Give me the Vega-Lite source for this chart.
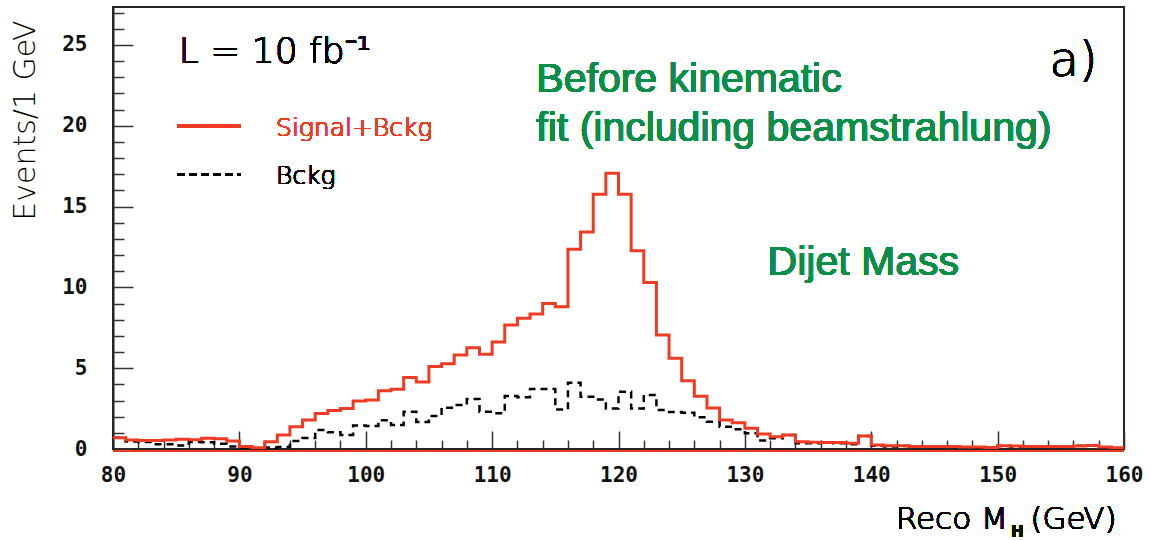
{
  "$schema": "https://vega.github.io/schema/vega-lite/v6.json",
  "width": 1011,
  "height": 442,
  "autosize": {"type": "none"},
  "padding": {"left": 113, "top": 7, "right": 27, "bottom": 91},
  "background": "white",
  "config": {
    "view": {"stroke": "#2b2323", "strokeWidth": 2},
    "axis": {"grid": false, "labelOverlap": false, "labelFlush": false, "labelBound": false}
  },
  "data": {"values": [
    {"m":80,"s":0.70,"b":0.70},{"m":81,"s":0.55,"b":0.46},{"m":82,"s":0.52,"b":0.44},{"m":83,"s":0.52,"b":0.30},
    {"m":84,"s":0.55,"b":0.30},{"m":85,"s":0.60,"b":0.22},{"m":86,"s":0.58,"b":0.43},{"m":87,"s":0.66,"b":0.42},
    {"m":88,"s":0.64,"b":0.32},{"m":89,"s":0.50,"b":0.15},{"m":90,"s":0.15,"b":0.08},{"m":91,"s":0.08,"b":0.05},
    {"m":92,"s":0.45,"b":0.10},{"m":93,"s":0.87,"b":0.12},{"m":94,"s":1.38,"b":0.50},{"m":95,"s":1.80,"b":0.68},
    {"m":96,"s":2.20,"b":1.18},{"m":97,"s":2.38,"b":1.03},{"m":98,"s":2.50,"b":0.87},{"m":99,"s":2.97,"b":1.45},
    {"m":100,"s":3.03,"b":1.42},{"m":101,"s":3.60,"b":1.78},{"m":102,"s":3.70,"b":1.49},{"m":103,"s":4.43,"b":2.31},
    {"m":104,"s":4.15,"b":1.67},{"m":105,"s":5.10,"b":2.04},{"m":106,"s":5.28,"b":2.56},{"m":107,"s":5.82,"b":2.72},
    {"m":108,"s":6.27,"b":3.09},{"m":109,"s":5.86,"b":2.31},{"m":110,"s":6.62,"b":2.21},{"m":111,"s":7.67,"b":3.28},
    {"m":112,"s":8.09,"b":3.20},{"m":113,"s":8.36,"b":3.71},{"m":114,"s":9.00,"b":3.71},{"m":115,"s":8.80,"b":2.45},
    {"m":116,"s":12.36,"b":4.10},{"m":117,"s":13.42,"b":3.24},{"m":118,"s":15.76,"b":3.07},{"m":119,"s":17.06,"b":2.51},
    {"m":120,"s":15.76,"b":3.55},{"m":121,"s":12.27,"b":2.51},{"m":122,"s":10.31,"b":3.34},{"m":123,"s":7.05,"b":2.41},
    {"m":124,"s":5.61,"b":2.29},{"m":125,"s":4.22,"b":2.25},{"m":126,"s":3.26,"b":1.97},{"m":127,"s":2.54,"b":1.69},
    {"m":128,"s":1.80,"b":1.38},{"m":129,"s":1.63,"b":1.22},{"m":130,"s":1.28,"b":0.97},{"m":131,"s":0.93,"b":0.52},
    {"m":132,"s":0.76,"b":0.66},{"m":133,"s":0.87,"b":0.87},{"m":134,"s":0.45,"b":0.35},{"m":135,"s":0.42,"b":0.35},
    {"m":136,"s":0.40,"b":0.40},{"m":137,"s":0.40,"b":0.35},{"m":138,"s":0.35,"b":0.29},{"m":139,"s":0.80,"b":0.80},
    {"m":140,"s":0.25,"b":0.20},{"m":141,"s":0.20,"b":0.15},{"m":142,"s":0.20,"b":0.18},{"m":143,"s":0.15,"b":0.12},
    {"m":144,"s":0.15,"b":0.12},{"m":145,"s":0.15,"b":0.12},{"m":146,"s":0.15,"b":0.15},{"m":147,"s":0.12,"b":0.10},
    {"m":148,"s":0.12,"b":0.10},{"m":149,"s":0.10,"b":0.08},{"m":150,"s":0.20,"b":0.18},{"m":151,"s":0.18,"b":0.15},
    {"m":152,"s":0.15,"b":0.12},{"m":153,"s":0.15,"b":0.12},{"m":154,"s":0.15,"b":0.12},{"m":155,"s":0.15,"b":0.15},
    {"m":156,"s":0.18,"b":0.20},{"m":157,"s":0.22,"b":0.20},{"m":158,"s":0.12,"b":0.10},{"m":159,"s":0.08,"b":0.05},
    {"m":160,"s":0.08,"b":0.05}
  ]},
  "resolve": {"axis": {"x": "independent", "y": "independent"}},
  "layer": [
    {
      "mark": {"type": "rule", "color": "#ee3b24", "strokeWidth": 1.2, "yOffset": 2},
      "encoding": {"x": {"datum": 80, "axis": null}, "x2": {"datum": 160}, "y": {"datum": 0, "axis": null}}
    },
    {
      "mark": {"type": "line", "interpolate": "step-after", "color": "black", "strokeWidth": 2.5, "strokeDash": [7, 5]},
      "encoding": {
        "x": {"field": "m", "type": "quantitative",
          "scale": {"domain": [80, 160], "nice": false, "zero": false},
          "axis": {
            "orient": "bottom",
            "title": null,
            "values": [80, 90, 100, 110, 120, 130, 140, 150, 160],
            "tickSize": -18,
            "tickColor": "#333", "tickWidth": 1.5,
            "domainColor": "#2b2323", "domainWidth": 2,
            "labelFont": "DejaVu Sans Mono", "labelFontWeight": "bold", "labelFontSize": 21,
            "labelColor": "#111", "labelPadding": 33
          }
        },
        "y": {"field": "b", "type": "quantitative",
          "scale": {"domain": [0, 27.35], "nice": false},
          "axis": {
            "orient": "left",
            "title": "Events/1 GeV",
            "values": [0, 5, 10, 15, 20, 25],
            "tickSize": -20,
            "tickColor": "#333", "tickWidth": 1.5,
            "domainColor": "#2b2323", "domainWidth": 2,
            "labelFont": "DejaVu Sans Mono", "labelFontWeight": "bold", "labelFontSize": 21,
            "labelColor": "#111", "labelPadding": 46,
            "titleFont": "DejaVu Sans", "titleFontWeight": 200, "titleFontSize": 30, "titleColor": "#000",
            "titleAnchor": "end", "titleX": -88, "titleY": 13, "titleAngle": -90, "titleAlign": "right", "titleBaseline": "middle"
          }
        }
      }
    },
    {
      "mark": {"type": "line", "interpolate": "step-after", "color": "#ee3b24", "strokeWidth": 3},
      "encoding": {
        "x": {"field": "m", "type": "quantitative",
          "axis": {
            "orient": "bottom", "title": null,
            "values": [82,84,86,88,92,94,96,98,102,104,106,108,112,114,116,118,122,124,126,128,132,134,136,138,142,144,146,148,152,154,156,158],
            "tickSize": -9, "tickColor": "#333", "tickWidth": 1.5,
            "labels": false, "domain": false
          }
        },
        "y": {"field": "s", "type": "quantitative",
          "axis": {
            "orient": "left", "title": null,
            "values": [1,2,3,4,6,7,8,9,11,12,13,14,16,17,18,19,21,22,23,24,26,27],
            "tickSize": -11, "tickColor": "#333", "tickWidth": 1.5,
            "labels": false, "domain": false
          }
        }
      }
    },
    {
      "mark": {"type": "rule", "color": "#ee3b24", "strokeWidth": 3},
      "encoding": {"x": {"datum": 85.1, "axis": null}, "x2": {"datum": 90.1}, "y": {"datum": 20.0, "axis": null}}
    },
    {
      "mark": {"type": "rule", "color": "black", "strokeWidth": 2.5, "strokeDash": [7, 5]},
      "encoding": {"x": {"datum": 85.1, "axis": null}, "x2": {"datum": 90.1}, "y": {"datum": 17.0, "axis": null}}
    },
    {
      "mark": {"type": "text", "align": "left", "baseline": "alphabetic", "font": "DejaVu Sans", "fontWeight": 200, "fontSize": 25, "color": "#ee3b24"},
      "encoding": {"x": {"datum": 92.9, "axis": null}, "y": {"datum": 19.37, "axis": null}, "text": {"value": "Signal+Bckg"}}
    },
    {
      "mark": {"type": "text", "align": "left", "baseline": "alphabetic", "font": "DejaVu Sans", "fontWeight": 200, "fontSize": 25, "color": "black"},
      "encoding": {"x": {"datum": 92.9, "axis": null}, "y": {"datum": 16.4, "axis": null}, "text": {"value": "Bckg"}}
    },
    {
      "mark": {"type": "text", "align": "left", "baseline": "alphabetic", "font": "DejaVu Sans", "fontWeight": 200, "fontSize": 36, "color": "black"},
      "encoding": {"x": {"datum": 85.2, "axis": null}, "y": {"datum": 23.89, "axis": null}, "text": {"value": "L = 10 fb⁻¹"}}
    },
    {
      "mark": {"type": "text", "align": "left", "baseline": "alphabetic", "font": "DejaVu Sans", "fontWeight": 200, "fontSize": 48, "color": "black"},
      "encoding": {"x": {"datum": 154.1, "axis": null}, "y": {"datum": 23.1, "axis": null}, "text": {"value": "a)"}}
    },
    {
      "mark": {"type": "text", "align": "left", "baseline": "alphabetic", "font": "Liberation Sans", "fontSize": 41, "lineHeight": 49, "color": "#0b8e4a"},
      "encoding": {"x": {"datum": 113.5, "axis": null}, "y": {"datum": 22.09, "axis": null}, "text": {"value": ["Before kinematic", "fit (including beamstrahlung)"]}}
    },
    {
      "mark": {"type": "text", "align": "left", "baseline": "alphabetic", "font": "Liberation Sans", "fontSize": 41, "color": "#0b8e4a"},
      "encoding": {"x": {"datum": 131.8, "axis": null}, "y": {"datum": 10.77, "axis": null}, "text": {"value": "Dijet Mass"}}
    },
    {
      "mark": {"type": "text", "align": "right", "baseline": "alphabetic", "font": "DejaVu Sans", "fontWeight": 200, "fontSize": 31, "color": "#000"},
      "encoding": {"x": {"datum": 150.8, "axis": null}, "y": {"datum": -4.95, "axis": null}, "text": {"value": "Reco M"}}
    },
    {
      "mark": {"type": "text", "align": "center", "baseline": "alphabetic", "font": "DejaVu Sans", "fontWeight": "bold", "fontSize": 15, "color": "#111"},
      "encoding": {"x": {"datum": 151.55, "axis": null}, "y": {"datum": -5.45, "axis": null}, "text": {"value": "H"}}
    },
    {
      "mark": {"type": "text", "align": "left", "baseline": "alphabetic", "font": "DejaVu Sans", "fontWeight": 200, "fontSize": 31, "color": "#000"},
      "encoding": {"x": {"datum": 152.6, "axis": null}, "y": {"datum": -4.95, "axis": null}, "text": {"value": "(GeV)"}}
    }
  ]
}
